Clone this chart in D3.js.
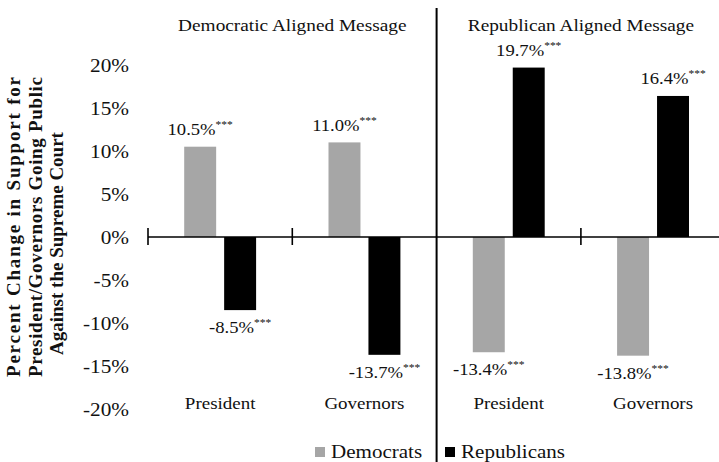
<!DOCTYPE html>
<html>
<head>
<meta charset="utf-8">
<script src="https://cdn.jsdelivr.net/npm/d3@7"></script>
<style>
  html, body { margin: 0; padding: 0; background: #fff; }
</style>
</head>
<body>
<svg id="chart" width="719" height="462"></svg>
<script>
// Groups along the x axis (message alignment x office)
const groupKeys = ["dem-president", "dem-governors", "rep-president", "rep-governors"];
const groupLabels = ["President", "Governors", "President", "Governors"];
const panelTitles = ["Democratic Aligned Message", "Republican Aligned Message"];

// Series
const seriesNames = ["Democrats", "Republicans"];
const seriesColors = ["#a6a6a6", "#000000"];
const democrats = [10.5, 11.0, -13.4, -13.8];
const republicans = [-8.5, -13.7, 19.7, 16.4];
const democratsSig = ["***", "***", "***", "***"];
const republicansSig = ["***", "***", "***", "***"];

// Y axis ticks
const yTicks = [-20, -15, -10, -5, 0, 5, 10, 15, 20];
const yTitleLines = [
  "Percent Change in Support  for",
  "President/Governors  Going Public",
  "Against the Supreme Court"
];

const FONT = "'Liberation Serif'";
const svg = d3.select("#chart");
const SX = 1.15; // horizontal glyph scaling used for all horizontal text
const pct = v => (v < 0 ? "-" : "") + Math.abs(v).toFixed(1) + "%";

function label(parent, x, y, str, size, anchor, weight) {
  const g = parent.append("g").attr("transform", `translate(${x},${y}) scale(${SX},1)`);
  return g.append("text")
    .style("font-family", FONT)
    .attr("text-anchor", anchor || "middle")
    .attr("font-size", size)
    .attr("font-weight", weight || "normal")
    .attr("fill", "#111")
    .text(str);
}

const plotLeft = 148, groupStep = 144.3;
const x0 = d3.scaleBand()
  .domain(groupKeys)
  .range([plotLeft, plotLeft + groupStep * groupKeys.length])
  .padding(0);

const x1 = d3.scaleBand()
  .domain(seriesNames)
  .range([0, x0.bandwidth()])
  .paddingInner(0.2)
  .paddingOuter(0.906);

const y = d3.scaleLinear().domain([-20, 20]).range([409, 65]);

// Y tick labels (no axis line)
const yAxis = d3.axisLeft(y).tickValues(yTicks).tickSize(0).tickPadding(0);
const yg = svg.append("g").attr("transform", "translate(129,0)").call(yAxis);
yg.select(".domain").remove();
yg.selectAll(".tick text").remove();
yg.selectAll(".tick").each(function(d) {
  label(d3.select(this), 0, 6.5, d + "%", 18.5, "end");
});

// Bars
const rows = groupKeys.map((k, i) => ({
  key: k,
  values: [
    { series: seriesNames[0], v: democrats[i], sig: democratsSig[i], color: seriesColors[0] },
    { series: seriesNames[1], v: republicans[i], sig: republicansSig[i], color: seriesColors[1] }
  ]
}));

const gGroups = svg.append("g").selectAll("g").data(rows).join("g")
  .attr("transform", d => `translate(${x0(d.key)},0)`);

gGroups.selectAll("rect").data(d => d.values).join("rect")
  .attr("x", d => x1(d.series))
  .attr("width", x1.bandwidth())
  .attr("y", d => y(Math.max(0, d.v)))
  .attr("height", d => Math.abs(y(d.v) - y(0)))
  .attr("fill", d => d.color);

// Value labels with significance stars
gGroups.each(function(row) {
  const g = d3.select(this);
  row.values.forEach(d => {
    const cx = x1(d.series) + x1.bandwidth() / 2;
    const ly = d.v >= 0 ? y(d.v) - 11.5 : y(d.v) + 23;
    const t = label(g, cx, ly, "", 16.2, "middle");
    t.append("tspan").text(pct(d.v));
    t.append("tspan").attr("font-size", 10).attr("dy", -7).text(d.sig);
  });
});

// X axis line and group boundary ticks
svg.append("line")
  .attr("x1", plotLeft).attr("x2", 719)
  .attr("y1", y(0)).attr("y2", y(0))
  .attr("stroke", "#000").attr("stroke-width", 1.6);

const boundaries = [x0(groupKeys[0]), x0(groupKeys[1]), x0(groupKeys[3])];
svg.append("g").selectAll("line").data(boundaries).join("line")
  .attr("x1", d => d).attr("x2", d => d)
  .attr("y1", y(0) - 9).attr("y2", y(0) + 8)
  .attr("stroke", "#000").attr("stroke-width", 1.6);

// Panel divider
const divX = x0(groupKeys[2]);
svg.append("line")
  .attr("x1", divX).attr("x2", divX)
  .attr("y1", 8).attr("y2", 462)
  .attr("stroke", "#000").attr("stroke-width", 2);

// Category labels
groupKeys.forEach((k, i) => {
  label(svg, x0(k) + x0.bandwidth() / 2, 409, groupLabels[i], 16.5, "middle");
});

// Panel titles, centred over each panel's middle boundary
label(svg, x0(groupKeys[1]), 31, panelTitles[0], 16.8, "middle");
label(svg, x0(groupKeys[3]), 31, panelTitles[1], 16.8, "middle");

// Y axis title (three rotated lines)
const yt = svg.append("g");
const titleBaselines = [20, 42, 63];
yTitleLines.forEach((line, i) => {
  const t = yt.append("text")
    .style("font-family", FONT)
    .attr("font-size", 19)
    .attr("font-weight", "bold")
    .attr("fill", "#111")
    .text(line);
  if (i < 2) {
    t.attr("transform", `translate(${titleBaselines[i]},377) rotate(-90)`)
      .attr("text-anchor", "start")
      .attr("textLength", 300)
      .attr("lengthAdjust", "spacing");
  } else {
    t.attr("transform", `translate(${titleBaselines[i]},243.5) rotate(-90)`)
      .attr("text-anchor", "middle");
  }
});

// Legend
const legendItems = [
  { name: seriesNames[0], color: seriesColors[0], x: 315 },
  { name: seriesNames[1], color: seriesColors[1], x: 445 }
];
legendItems.forEach(d => {
  svg.append("rect").attr("x", d.x).attr("y", 447).attr("width", 10).attr("height", 10).attr("fill", d.color);
  label(svg, d.x + 16, 458, d.name, 18.3, "start");
});
</script>
</body>
</html>
